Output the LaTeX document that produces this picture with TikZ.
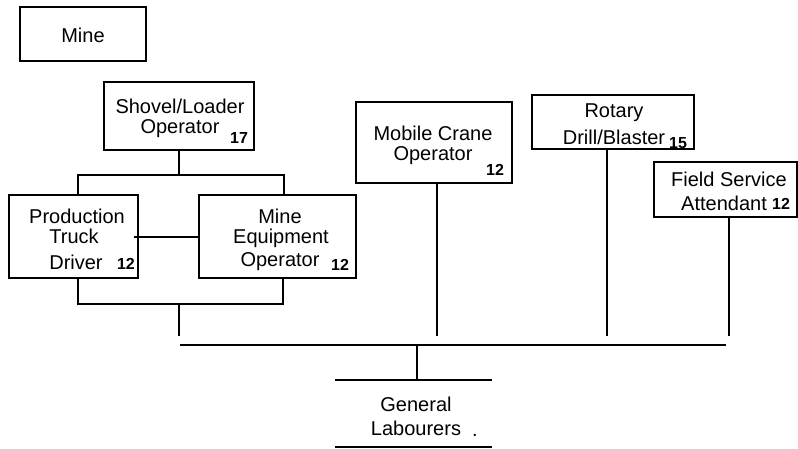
\documentclass[tikz,border=0pt]{standalone}
\usepackage{fontspec}
\setmainfont{Liberation Sans}
\begin{document}
\begin{tikzpicture}[x=1pt,y=-1pt,
  box/.style={draw, line width=1.2pt, rectangle, inner sep=0pt},
  lbl/.style={font=\fontsize{20}{24}\selectfont, inner sep=0pt},
  num/.style={font=\bfseries\fontsize{16}{18}\selectfont, inner sep=0pt},
  conn/.style={line width=1.4pt},
  bus/.style={line width=1.8pt}]
\useasboundingbox (0,0) rectangle (798,448);
% boxes
\node[box, minimum width=126pt, minimum height=54pt] (mine) at (83,34) {};
\node[box, minimum width=150pt, minimum height=68pt] (shovel) at (179,116) {};
\node[box, minimum width=129pt, minimum height=83pt] (prod) at (73.5,236.5) {};
\node[box, minimum width=157pt, minimum height=83pt] (meq) at (277.5,236.5) {};
\node[box, minimum width=156pt, minimum height=81pt] (crane) at (434,142.5) {};
\node[box, minimum width=162pt, minimum height=54pt] (rotary) at (613,122) {};
\node[box, minimum width=143pt, minimum height=55pt] (field) at (725.5,189.5) {};
\node[inner sep=0pt, minimum width=157pt, minimum height=67pt] (gl) at (413.5,413.5) {};
% texts
\node[lbl] (tmine) at (83,35) {Mine};
\node[lbl] (tsh1) at (180,106) {Shovel/Loader};
\node[lbl] (tsh2) at (180,129) {Operator};
\node[num] (nsh) at (239,138) {17};
\node[lbl] (tpr1) at (77,216) {Production};
\node[lbl] (tpr2) at (74,236) {Truck};
\node[lbl] (tpr3) at (76,262) {Driver};
\node[num] (npr) at (126,264) {12};
\node[lbl] (tme1) at (280,216) {Mine};
\node[lbl] (tme2) at (281,238) {Equipment};
\node[lbl] (tme3) at (280,262) {Operator};
\node[num] (nme) at (340,265) {12};
\node[lbl] (tcr1) at (433,133) {Mobile Crane};
\node[lbl] (tcr2) at (433,156) {Operator};
\node[num] (ncr) at (495,170) {12};
\node[lbl] (tro1) at (614,113) {Rotary};
\node[lbl] (tro2) at (614,137) {Drill/Blaster};
\node[num] (nro) at (678,143) {15};
\node[lbl] (tfi1) at (729,179) {Field Service};
\node[lbl] (tfi2) at (724,203) {Attendant};
\node[num] (nfi) at (781,204) {12};
\node[lbl] (tgl1) at (416,404) {General};
\node[lbl] (tgl2) at (416,428) {Labourers};
\node[lbl] (tdot) at (475,435) {.};
% connectors
\coordinate (tb) at (179,175);
\coordinate (bb) at (179,304);
\coordinate (t1) at (179,336);
\coordinate (t2) at (437,336);
\coordinate (t3) at (607,336);
\coordinate (t4) at (729,336);
\coordinate (busL) at (180,345);
\coordinate (busR) at (726,345);
\coordinate (bj) at (417,345);
\draw[conn] (shovel.south) -- (tb);
\draw[conn] ([xshift=4.5pt]prod.north) |- (tb);
\draw[conn] ([xshift=6.5pt]meq.north) |- (tb);
\draw[line width=2pt] ([xshift=-5pt]prod.east) -- (meq.west);
\draw[conn] ([xshift=4.5pt]prod.south) |- (bb);
\draw[conn] ([xshift=5.5pt]meq.south) |- (bb);
\draw[conn] (bb) -- (t1);
\draw[conn] ([xshift=3pt]crane.south) -- (t2);
\draw[conn] ([xshift=-6pt]rotary.south) -- (t3);
\draw[conn] ([xshift=3.5pt]field.south) -- (t4);
\draw[bus] (busL) -- (busR);
\draw[conn] (bj) -- (gl.north -| bj);
\draw[bus] (gl.north west) -- (gl.north east);
\draw[bus] (gl.south west) -- (gl.south east);
\end{tikzpicture}
\end{document}
